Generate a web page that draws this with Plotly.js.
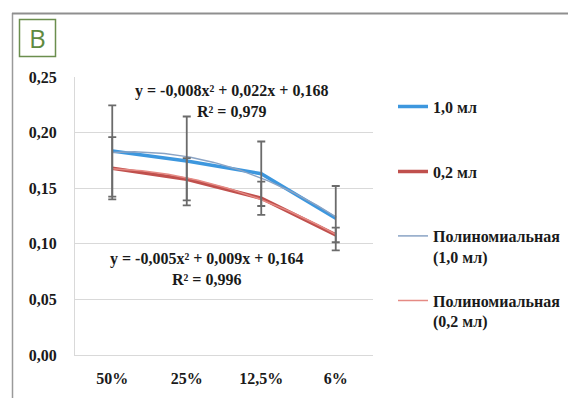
<!DOCTYPE html>
<html>
<head>
<meta charset="utf-8">
<script src="https://cdn.plot.ly/plotly-3.0.1.min.js"></script>
<style>
  html, body { margin: 0; padding: 0; background: #ffffff; }
  #chart { width: 568px; height: 398px; }
</style>
</head>
<body>
<div id="chart"></div>
<script>
// ---- data ----
const categories = ['50%', '25%', '12,5%', '6%'];
const series1Name = '1,0 мл';
const series1Values = [0.1835, 0.1745, 0.163, 0.123];
const series1Errors = [0.041, 0.040, 0.029, 0.029];
const series2Name = '0,2 мл';
const series2Values = [0.168, 0.158, 0.141, 0.108];
const series2Errors = [0.028, 0.019, 0.015, 0.0066];
const trend1Name = 'Полиномиальная<br>(1,0 мл)';
const trend2Name = 'Полиномиальная<br>(0,2 мл)';
const equation1 = 'y = -0,008x² + 0,022x + 0,168<br>R² = 0,979';
const equation2 = 'y = -0,005x² + 0,009x + 0,164<br>R² = 0,996';
const yTicks = [0, 0.05, 0.10, 0.15, 0.20, 0.25];

// ---- helpers ----
const catPos = categories.map((c, i) => i + 1);

// least squares quadratic fit (Excel polynomial trendline, order 2)
function polyFit2(xs, ys) {
  let S = [0, 0, 0, 0, 0], T = [0, 0, 0];
  xs.forEach((x, i) => {
    for (let k = 0; k < 5; k++) S[k] += Math.pow(x, k);
    for (let k = 0; k < 3; k++) T[k] += ys[i] * Math.pow(x, k);
  });
  const M = [[S[0], S[1], S[2], T[0]], [S[1], S[2], S[3], T[1]], [S[2], S[3], S[4], T[2]]];
  for (let c = 0; c < 3; c++) {
    for (let r = c + 1; r < 3; r++) {
      const f = M[r][c] / M[c][c];
      for (let k = c; k < 4; k++) M[r][k] -= f * M[c][k];
    }
  }
  const coef = [0, 0, 0];
  for (let r = 2; r >= 0; r--) {
    let s = M[r][3];
    for (let k = r + 1; k < 3; k++) s -= M[r][k] * coef[k];
    coef[r] = s / M[r][r];
  }
  return coef; // c0 + c1 x + c2 x^2
}
function trendCurve(xs, ys) {
  const c = polyFit2(xs, ys);
  const tx = [], ty = [];
  const x0 = xs[0], x1 = xs[xs.length - 1];
  const n = 60;
  for (let i = 0; i <= n; i++) {
    const x = x0 + (x1 - x0) * i / n;
    tx.push(x); ty.push(c[0] + c[1] * x + c[2] * x * x);
  }
  return { x: tx, y: ty };
}
const t1 = trendCurve(catPos, series1Values);
const t2 = trendCurve(catPos, series2Values);

// ---- layout geometry (pixels) ----
const W = 568, H = 398;
const L = 75, R = 373, T = 77, B = 355;
const pw = R - L, ph = B - T;
const px = v => (v - L) / pw;
const py = v => (B - v) / ph;

const serif = 'Liberation Serif';
const txtColor = '#1a1a1a';
const blue = '#3d97de';
const red = '#c0504d';
const blueTrend = '#8aa3c4';
const redTrend = '#e58a84';
const errColor = '#6b6b6b';

const traces = [
  { x: catPos, y: series1Values, type: 'scatter', mode: 'lines', name: series1Name,
    line: { color: blue, width: 3.5 }, legend: 'legend' },
  { x: catPos, y: series2Values, type: 'scatter', mode: 'lines', name: series2Name,
    line: { color: red, width: 3.5 }, legend: 'legend2' },
  { x: t1.x, y: t1.y, type: 'scatter', mode: 'lines', name: trend1Name,
    line: { color: blueTrend, width: 1.5 }, legend: 'legend3' },
  { x: t2.x, y: t2.y, type: 'scatter', mode: 'lines', name: trend2Name,
    line: { color: redTrend, width: 1.5 }, legend: 'legend4' },
  { x: catPos, y: series1Values, type: 'scatter', mode: 'markers', showlegend: false,
    marker: { size: 0.1, color: 'rgba(0,0,0,0)' }, hoverinfo: 'skip',
    error_y: { type: 'data', array: series1Errors, color: errColor, thickness: 1.8, width: 4 } },
  { x: catPos, y: series2Values, type: 'scatter', mode: 'markers', showlegend: false,
    marker: { size: 0.1, color: 'rgba(0,0,0,0)' }, hoverinfo: 'skip',
    error_y: { type: 'data', array: series2Errors, color: errColor, thickness: 1.8, width: 4 } }
];

const baseFont = { family: serif, size: 16, color: txtColor, weight: 'bold' };

const legendBase = {
  xanchor: 'left', yanchor: 'middle', valign: 'top',
  bgcolor: 'rgba(0,0,0,0)', borderwidth: 0,
  font: baseFont
};
const legX = px(393);

const layout = {
  width: W, height: H,
  margin: { l: L, r: W - R, t: T, b: H - B, pad: 0, autoexpand: false },
  paper_bgcolor: '#ffffff', plot_bgcolor: '#ffffff',
  separators: ', ',
  font: baseFont,
  xaxis: {
    range: [0.5, 4.5], tickvals: catPos, ticktext: categories,
    showgrid: false, zeroline: false, showline: true, linecolor: '#d9d9d9', linewidth: 1,
    ticks: '', ticklabelstandoff: 9, fixedrange: true,
    tickfont: baseFont
  },
  yaxis: {
    range: [0, 0.25], tickvals: yTicks, tickformat: '.2f',
    showgrid: true, gridcolor: '#d9d9d9', gridwidth: 1,
    zeroline: false, showline: true, linecolor: '#d9d9d9', linewidth: 1,
    ticks: '', ticklabelstandoff: 14, fixedrange: true,
    tickfont: baseFont
  },
  showlegend: true,
  legend: Object.assign({}, legendBase, { x: legX, y: py(106.7) }),
  legend2: Object.assign({}, legendBase, { x: legX, y: py(171.7) }),
  legend3: Object.assign({}, legendBase, { x: legX, y: py(246.5) }),
  legend4: Object.assign({}, legendBase, { x: legX, y: py(311) }),
  annotations: [
    { xref: 'paper', yref: 'paper', x: px(231), y: py(101), text: equation1,
      showarrow: false, align: 'center', xanchor: 'center', yanchor: 'middle',
      font: baseFont },
    { xref: 'paper', yref: 'paper', x: px(206), y: py(268.5), text: equation2,
      showarrow: false, align: 'center', xanchor: 'center', yanchor: 'middle',
      font: baseFont },
    { xref: 'paper', yref: 'paper', x: px(37.5), y: py(38), text: 'B',
      showarrow: false, xanchor: 'center', yanchor: 'middle',
      font: { family: 'Open Sans', size: 26, color: '#5f8a3f', weight: 'normal' } }
  ],
  shapes: [
    // outer frame (left and top)
    { type: 'line', xref: 'paper', yref: 'paper', x0: px(12.5), x1: px(12.5), y0: py(13), y1: py(H),
      line: { color: '#9a9a9a', width: 1.5 } },
    { type: 'line', xref: 'paper', yref: 'paper', x0: px(12), x1: px(W), y0: py(13.5), y1: py(13.5),
      line: { color: '#8f8f8f', width: 2 } },
    // label box
    { type: 'rect', xref: 'paper', yref: 'paper', x0: px(19.5), x1: px(55.5), y0: py(19.5), y1: py(56.5),
      line: { color: '#6b8e4e', width: 1.5 }, fillcolor: 'rgba(0,0,0,0)' }
  ]
};

Plotly.newPlot('chart', traces, layout, { staticPlot: true, displayModeBar: false });
</script>
</body>
</html>
